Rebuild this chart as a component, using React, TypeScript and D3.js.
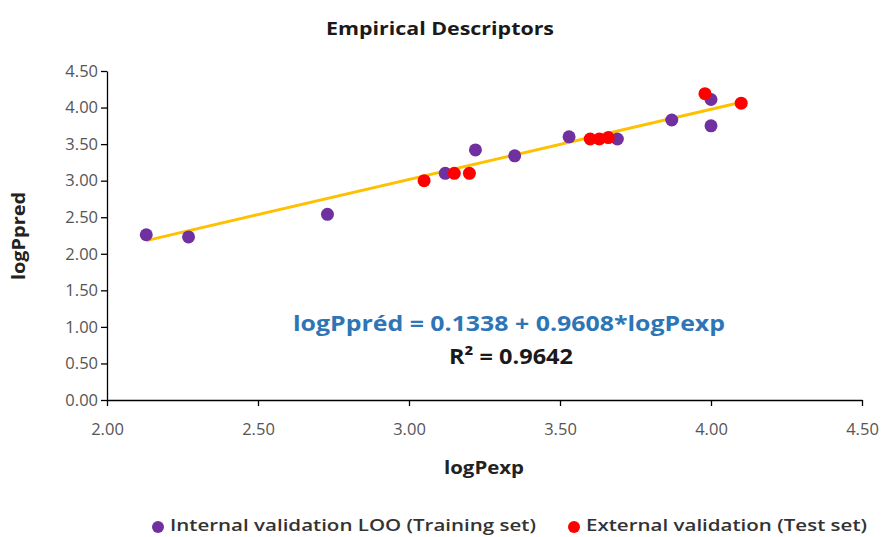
import { useEffect, useRef } from 'react';
import * as d3 from 'd3';

// training set (LOO) points
const trainX = [2.13, 2.27, 2.73, 3.12, 3.22, 3.35, 3.53, 3.69, 3.87, 4.0, 4.0];
const trainY = [2.26, 2.23, 2.54, 3.1, 3.42, 3.34, 3.6, 3.57, 3.83, 4.11, 3.75];
// test set points
const testX = [3.05, 3.15, 3.2, 3.6, 3.63, 3.66, 3.98, 4.1];
const testY = [3.0, 3.1, 3.1, 3.57, 3.57, 3.59, 4.19, 4.06];

const intercept = 0.1338;
const slope = 0.9608;
const r2 = 0.9642;

const xTicks = [2.0, 2.5, 3.0, 3.5, 4.0, 4.5];
const yTicks = [0, 0.5, 1, 1.5, 2, 2.5, 3, 3.5, 4, 4.5];

const FONT = '"Open Sans", "Noto Sans", sans-serif';

function App() {
  const ref = useRef<SVGSVGElement>(null);

  useEffect(() => {
    const svg = d3.select(ref.current);
    svg.selectAll('*').remove();

    const x = d3.scaleLinear().domain([2, 4.5]).range([107, 862]);
    const y = d3.scaleLinear().domain([0, 4.5]).range([400, 71]);

    // the original is a little stretched sideways, so widths are pinned with textLength
    const label = (tx: number, ty: number, txt: string, size: number, weight: any, color: string, len: number) =>
      svg.append('text')
        .attr('x', tx).attr('y', ty)
        .attr('text-anchor', 'middle')
        .attr('font-family', FONT).attr('font-weight', weight)
        .attr('font-size', size).attr('fill', color)
        .attr('textLength', len).attr('lengthAdjust', 'spacingAndGlyphs')
        .text(txt);

    label(440, 35, 'Empirical Descriptors', 18, 'bold', '#1a1a1a', 228);

    const xAxis = svg.append('g')
      .attr('transform', 'translate(0,400)')
      .call(d3.axisBottom(x).tickValues(xTicks).tickFormat(d3.format('.2f')).tickSize(6).tickSizeOuter(0));
    const yAxis = svg.append('g')
      .attr('transform', 'translate(107,0)')
      .call(d3.axisLeft(y).tickValues(yTicks).tickFormat(d3.format('.2f')).tickSize(6).tickSizeOuter(0));

    [xAxis, yAxis].forEach((g) => {
      g.select('.domain').attr('stroke', '#000').attr('stroke-width', 1.3);
      g.selectAll('.tick line').attr('stroke', '#000').attr('stroke-width', 1.3);
      g.selectAll('.tick text')
        .attr('font-family', FONT).attr('font-size', 16.5).attr('fill', '#555');
    });
    xAxis.selectAll('.tick text').attr('dy', '1.6em');
    yAxis.selectAll('.tick text').attr('x', -9);

    label(484, 474, 'logPexp', 18, 'bold', '#222', 80);

    svg.append('text')
      .attr('transform', 'translate(25,236) rotate(-90)')
      .attr('text-anchor', 'middle')
      .attr('font-family', FONT).attr('font-weight', 'bold')
      .attr('font-size', 18).attr('fill', '#222')
      .attr('textLength', 88).attr('lengthAdjust', 'spacingAndGlyphs')
      .text('logPpred');

    const allX = trainX.concat(testX);
    const x0 = d3.min(allX) as number;
    const x1 = d3.max(allX) as number;
    svg.append('line')
      .attr('x1', x(x0)).attr('y1', y(intercept + slope * x0))
      .attr('x2', x(x1)).attr('y2', y(intercept + slope * x1))
      .attr('stroke', '#FFC000').attr('stroke-width', 3);

    svg.append('g').selectAll('circle')
      .data(trainX.map((v, i) => [v, trainY[i]]))
      .enter().append('circle')
      .attr('cx', (d) => x(d[0])).attr('cy', (d) => y(d[1]))
      .attr('r', 6.5).attr('fill', '#7030A0');

    svg.append('g').selectAll('circle')
      .data(testX.map((v, i) => [v, testY[i]]))
      .enter().append('circle')
      .attr('cx', (d) => x(d[0])).attr('cy', (d) => y(d[1]))
      .attr('r', 6.5).attr('fill', '#FF0000');

    label(509, 331, `logPpréd = ${intercept} + ${slope}*logPexp`, 21.5, 'bold', '#2E75B6', 432);
    label(511, 364, `R² = ${r2}`, 21.5, 'bold', '#1a1a1a', 124);

    const legend = [
      { label: 'Internal validation LOO (Training set)', color: '#7030A0', cx: 158, len: 366 },
      { label: 'External validation (Test set)', color: '#FF0000', cx: 574, len: 281 },
    ];
    legend.forEach((l) => {
      svg.append('circle').attr('cx', l.cx).attr('cy', 527).attr('r', 6).attr('fill', l.color);
      svg.append('text')
        .attr('x', l.cx + 12).attr('y', 531)
        .attr('font-family', FONT).attr('font-weight', 600)
        .attr('font-size', 16.5).attr('fill', '#333')
        .attr('textLength', l.len).attr('lengthAdjust', 'spacingAndGlyphs')
        .text(l.label);
    });
  }, []);

  return (
    <svg ref={ref} width={885} height={537} style={{ position: 'absolute', left: 0, top: 0, background: '#fff' }} />
  );
}

export default App;
